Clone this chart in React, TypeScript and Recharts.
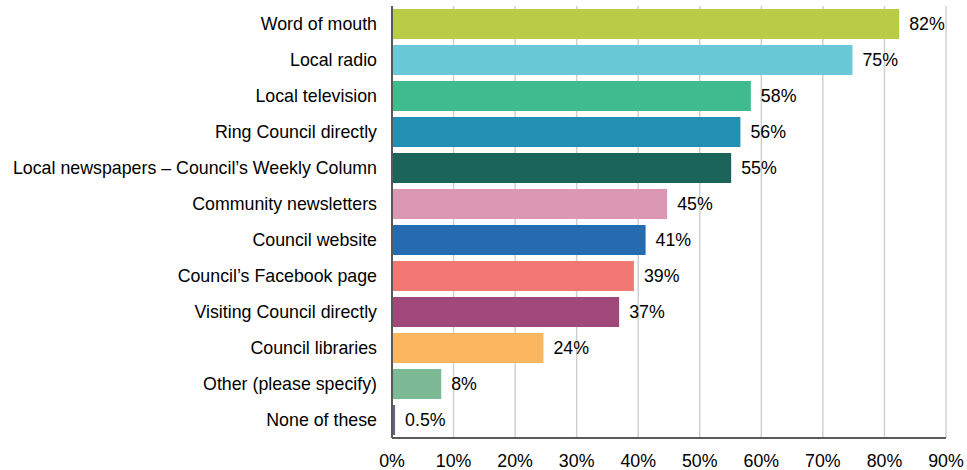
import React from "react";
import { BarChart, Bar, XAxis, YAxis, CartesianGrid, Cell, LabelList } from "recharts";

const categories = [
  "Word of mouth",
  "Local radio",
  "Local television",
  "Ring Council directly",
  "Local newspapers \u2013 Council\u2019s Weekly Column",
  "Community newsletters",
  "Council website",
  "Council\u2019s Facebook page",
  "Visiting Council directly",
  "Council libraries",
  "Other (please specify)",
  "None of these",
];
const values = [82.4, 74.8, 58.3, 56.6, 55.1, 44.7, 41.2, 39.3, 36.9, 24.6, 8.0, 0.5];
const valueLabels = ["82%", "75%", "58%", "56%", "55%", "45%", "41%", "39%", "37%", "24%", "8%", "0.5%"];
const colors = [
  "#b8cc47",
  "#69c9d7",
  "#40bb8e",
  "#2390b3",
  "#1a6459",
  "#dc97b4",
  "#246baf",
  "#f27874",
  "#a0487a",
  "#fcb660",
  "#7eb996",
  "#6c5f8a",
];
const xTicks = [0, 10, 20, 30, 40, 50, 60, 70, 80, 90];

const data = categories.map((name, i) => ({ name, value: values[i], label: valueLabels[i] }));

const font = "'Liberation Sans', Arial, sans-serif";
const fs = 17.8;

export default function App() {
  return (
    <div style={{ position: "absolute", left: 0, top: 0, width: 967, height: 470, background: "#fff" }}>
      <BarChart
        width={967}
        height={470}
        data={data}
        layout="vertical"
        margin={{ top: 6, right: 21, bottom: 0, left: 0 }}
        barSize={30}
      >
        <CartesianGrid horizontal={false} vertical={true} stroke="#d0d0d0" strokeWidth={1.5} />
        <XAxis
          type="number"
          domain={[0, 90]}
          ticks={xTicks}
          interval={0}
          height={32}
          tickFormatter={(v) => `${v}%`}
          tickLine={false}
          tickSize={0}
          tickMargin={16}
          axisLine={{ stroke: "#595959", strokeWidth: 2 }}
          tick={{ fill: "#000", fontSize: fs, fontFamily: font }}
        />
        <YAxis
          type="category"
          dataKey="name"
          width={392}
          interval={0}
          tickLine={false}
          tickSize={0}
          tickMargin={15}
          axisLine={{ stroke: "#595959", strokeWidth: 2 }}
          tick={{ fill: "#000", fontSize: fs, fontFamily: font }}
        />
        <Bar dataKey="value" isAnimationActive={false}>
          {data.map((d, i) => (
            <Cell key={d.name} fill={colors[i]} />
          ))}
          <LabelList
            dataKey="label"
            position="right"
            offset={10}
            style={{ fill: "#000", fontSize: fs, fontFamily: font }}
          />
        </Bar>
      </BarChart>
    </div>
  );
}
